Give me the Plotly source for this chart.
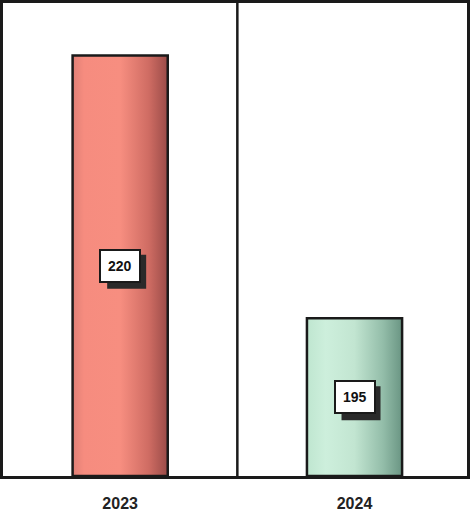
import plotly.graph_objects as go

categories = ["2023", "2024"]
values = [220, 195]
labels = ["220", "195"]
axis_min = 180
axis_max = 225
bar_half = 0.203
grad_colors = [
    [[0, "#e07f76"], [0.12, "#f68c7f"], [0.5, "#f78e80"], [0.8, "#cf6c63"], [1, "#9a4b48"]],
    [[0, "#bfe6d0"], [0.2, "#cdefdc"], [0.5, "#c2e5d1"], [0.8, "#93bda9"], [1, "#6a9583"]],
]

fig = go.Figure()
for i, (cat, v) in enumerate(zip(categories, values)):
    xs = [i - bar_half, i + bar_half, i + bar_half, i - bar_half, i - bar_half]
    ys = [axis_min, axis_min, v, v, axis_min]
    fig.add_trace(go.Scatter(
        x=xs, y=ys, mode="lines", fill="toself",
        fillgradient=dict(type="horizontal", colorscale=grad_colors[i]),
        line=dict(color="#1a1a1a", width=2.5),
        hoverinfo="skip", showlegend=False,
    ))
    mid = (axis_min + v) / 2
    # drop shadow of the value box (pixel-sized, anchored at the label position)
    fig.add_shape(type="rect", xref="x", yref="y",
                  xsizemode="pixel", ysizemode="pixel", xanchor=i, yanchor=mid,
                  x0=-13, x1=26, y0=-23, y1=11,
                  fillcolor="#2a2a2a", line=dict(width=0), layer="above")
    fig.add_annotation(x=i, y=mid, xref="x", yref="y", text="<b>" + labels[i] + "</b>",
                       showarrow=False,
                       font=dict(family="Arial, Liberation Sans", size=14, color="#111111"),
                       bgcolor="white", bordercolor="#1a1a1a", borderwidth=2, borderpad=7)

fig.add_shape(type="line", xref="x", yref="paper", x0=0.5, x1=0.5, y0=0, y1=1,
              line=dict(color="#1a1a1a", width=2.5))

fig.update_layout(
    width=470, height=514,
    margin=dict(l=3, r=3, t=3, b=38, autoexpand=False),
    paper_bgcolor="white", plot_bgcolor="white",
    xaxis=dict(range=[-0.5, 1.48], tickvals=[0, 1],
               ticktext=["<b>" + c + "</b>" for c in categories],
               showgrid=False, zeroline=False, showline=True, mirror=True,
               linecolor="#1a1a1a", linewidth=2.5, ticks="", ticklabelstandoff=11,
               automargin=False,
               tickfont=dict(family="Arial, Liberation Sans", size=16, color="#222222")),
    yaxis=dict(range=[axis_min, axis_max], showticklabels=False, showgrid=False,
               zeroline=False, showline=True, mirror=True, automargin=False,
               linecolor="#1a1a1a", linewidth=2.5, ticks=""),
)
fig.write_html("out.html", config={"displayModeBar": False},
               post_script="document.body.style.margin='0';document.body.style.overflow='hidden';")
